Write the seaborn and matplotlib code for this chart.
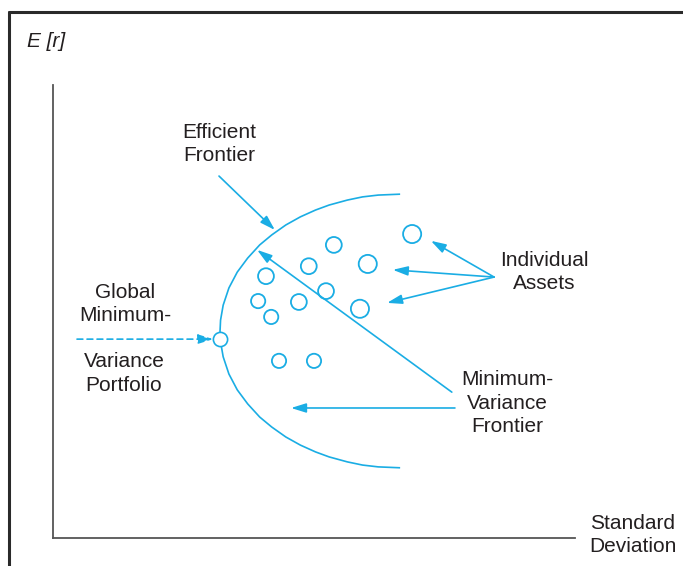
import matplotlib.pyplot as plt
import seaborn as sns
from matplotlib.lines import Line2D

# minimum-variance frontier (std dev, expected return)
frontier_sd = [6.65, 6.23, 5.93, 5.64, 5.29, 5.03, 4.74, 4.46, 4.19, 3.96, 3.73,
               3.53, 3.37, 3.26, 3.21, 3.20, 3.21, 3.26, 3.37, 3.53, 3.73, 3.96,
               4.19, 4.46, 4.74, 5.03, 5.29, 5.64, 5.93, 6.23, 6.65]
frontier_er = [7.59, 7.57, 7.53, 7.46, 7.35, 7.24, 7.09, 6.91, 6.69, 6.47, 6.18,
               5.87, 5.52, 5.14, 4.81, 4.57, 4.33, 4.00, 3.62, 3.27, 2.96, 2.67,
               2.45, 2.23, 2.05, 1.90, 1.79, 1.68, 1.61, 1.57, 1.55]

# individual assets
asset_sd = [6.88, 5.38, 6.03, 4.90, 4.08, 5.23, 4.71, 3.93, 5.88, 4.18, 4.33, 5.00]
asset_er = [6.71, 6.47, 6.05, 6.00, 5.78, 5.45, 5.21, 5.23, 5.06, 4.88, 3.91, 3.91]
asset_marker = [170, 130, 170, 130, 130, 130, 130, 105, 170, 105, 105, 105]

# global minimum-variance portfolio
gmv_sd = [3.20]
gmv_er = [4.39]

CYAN = '#1AADE4'
INK = '#231F20'
AXIS = '#555555'

sns.set_style('white')
plt.rcParams['font.family'] = ['Liberation Sans', 'DejaVu Sans']

fig = plt.figure(figsize=(6.83, 5.66), dpi=100)
ax = fig.add_axes([53 / 683, (566 - 538) / 566, (575 - 53) / 683, (538 - 85) / 566])
ax.set_xlim(0, 10)
ax.set_ylim(0, 10)

sns.lineplot(x=frontier_sd, y=frontier_er, sort=False, estimator=None,
             errorbar=None, color=CYAN, lw=1.2, ax=ax,
             solid_joinstyle='round', solid_capstyle='butt')
sns.scatterplot(x=asset_sd, y=asset_er, s=asset_marker, facecolor='none',
                edgecolor=CYAN, linewidth=1.3, ax=ax)
sns.scatterplot(x=gmv_sd, y=gmv_er, s=105, facecolor='white',
                edgecolor=CYAN, linewidth=1.2, zorder=5, ax=ax)

ax.set_xticks([])
ax.set_yticks([])
ax.set_xlabel('')
ax.set_ylabel('')
sns.despine(ax=ax)
for side in ['left', 'bottom']:
    ax.spines[side].set_color(AXIS)
    ax.spines[side].set_linewidth(1.3)

# arrows
arrow = dict(arrowstyle='-|>,head_length=0.9,head_width=0.28', color=CYAN,
             lw=1.2, shrinkA=0, shrinkB=0, mutation_scale=10)
arrow_pairs = [
    ((4.25, 6.80), (3.18, 7.99)),   # efficient frontier
    ((3.91, 6.36), (7.64, 3.22)),   # minimum-variance frontier (long)
    ((4.56, 2.87), (7.70, 2.87)),   # minimum-variance frontier (flat)
    ((7.24, 6.56), (8.45, 5.76)),   # assets
    ((6.51, 5.92), (8.45, 5.76)),
    ((6.40, 5.19), (8.45, 5.76)),
]
for tip, tail in arrow_pairs:
    ax.annotate('', xy=tip, xytext=tail, arrowprops=arrow, annotation_clip=False)

dashed = dict(arrow, linestyle=(0, (3.5, 2.5)))
ax.annotate('', xy=(3.07, 4.39), xytext=(0.46, 4.39), arrowprops=dashed,
            annotation_clip=False)

# labels
label_kw = dict(ha='center', va='center', fontsize=15, color=INK,
                linespacing=1.28, clip_on=False)
ax.text(3.18, 8.70, 'Efficient\nFrontier', **label_kw)
ax.text(1.38, 5.17, 'Global\nMinimum-', **label_kw)
ax.text(1.36, 3.63, 'Variance\nPortfolio', **label_kw)
ax.text(9.41, 5.87, 'Individual\nAssets', **label_kw)
ax.text(8.70, 2.98, 'Minimum-\nVariance\nFrontier', **label_kw)
ax.text(11.11, 0.07, 'Standard\nDeviation', **label_kw)
ax.text(-0.13, 10.95, 'E [r]', style='italic', **label_kw)

# border of the figure box
fig.add_artist(Line2D([9 / 683, 1], [1 - 11.5 / 566] * 2, color='#2a2a2a', lw=2.2))
fig.add_artist(Line2D([9 / 683] * 2, [0, 1 - 11.5 / 566], color='#2a2a2a', lw=2.2))

fig.savefig('out.png', dpi=100)
